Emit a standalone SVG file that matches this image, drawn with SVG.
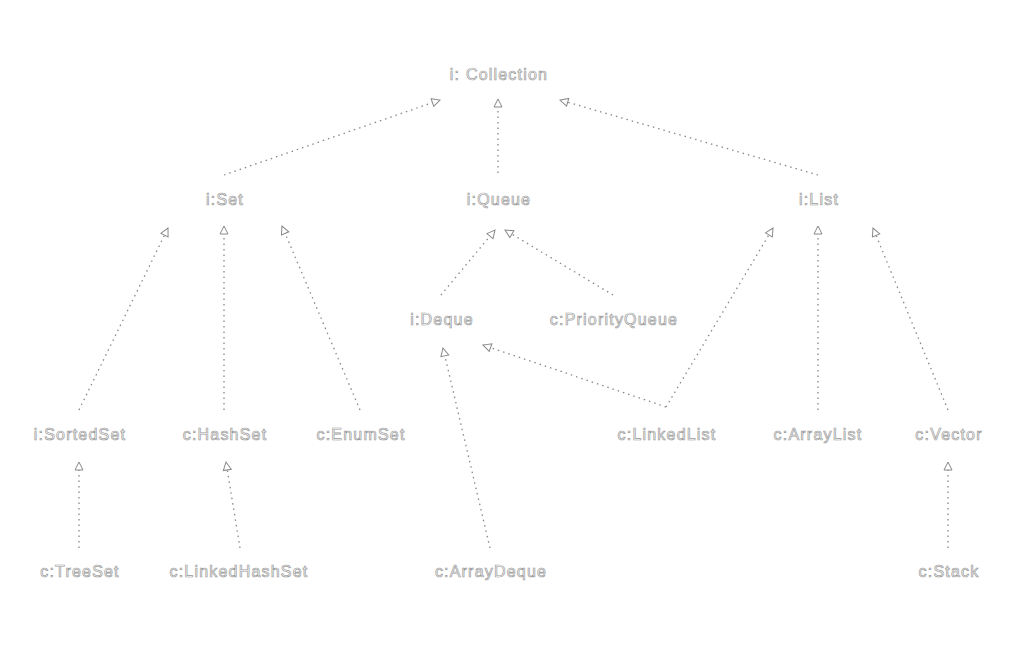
<svg xmlns="http://www.w3.org/2000/svg" width="1023" height="650" viewBox="0 0 1023 650">
<style>
text{font-family:"Liberation Sans",Arial,sans-serif;font-size:16px;letter-spacing:1.2px;fill:#ffffff;stroke:#9a9a9a;stroke-width:0.7;text-anchor:middle;dominant-baseline:central}
.e{fill:none;stroke:#888;stroke-width:1.3;stroke-dasharray:1.5 4;marker-end:url(#a)}
</style>
<defs>
<marker id="a" viewBox="0 0 10 10" refX="9" refY="5" markerWidth="10" markerHeight="10" markerUnits="userSpaceOnUse" orient="auto">
<path d="M1,1 L9,5 L1,9 Z" fill="#fff" stroke="#888" stroke-width="1"/>
</marker>
</defs>
<rect width="1023" height="650" fill="#fff"/>
<g id="edges">
<line class="e" x1="224" y1="175" x2="440" y2="100"/>
<line class="e" x1="498" y1="173" x2="498" y2="99"/>
<line class="e" x1="818" y1="175" x2="560" y2="100"/>
<line class="e" x1="79" y1="410" x2="168" y2="228"/>
<line class="e" x1="224" y1="410" x2="224" y2="226"/>
<line class="e" x1="360" y1="410" x2="282" y2="226"/>
<line class="e" x1="441" y1="295" x2="495" y2="230"/>
<line class="e" x1="613" y1="295" x2="505" y2="230"/>
<line class="e" x1="666" y1="407" x2="483" y2="345"/>
<line class="e" x1="666" y1="407" x2="773" y2="228"/>
<line class="e" x1="818" y1="410" x2="818" y2="226"/>
<line class="e" x1="948" y1="410" x2="873" y2="228"/>
<line class="e" x1="490" y1="548" x2="443" y2="348"/>
<line class="e" x1="79" y1="548" x2="79" y2="462"/>
<line class="e" x1="240" y1="548" x2="226" y2="462"/>
<line class="e" x1="948" y1="548" x2="948" y2="462"/>
</g>
<g id="collection"><text x="499" y="74">i: Collection</text></g>
<g id="set"><text x="225" y="199">i:Set</text></g>
<g id="queue"><text x="499" y="199">i:Queue</text></g>
<g id="list"><text x="819" y="199">i:List</text></g>
<g id="deque"><text x="442" y="319">i:Deque</text></g>
<g id="priorityqueue"><text x="614" y="319">c:PriorityQueue</text></g>
<g id="sortedset"><text x="80" y="434">i:SortedSet</text></g>
<g id="hashset"><text x="225" y="434">c:HashSet</text></g>
<g id="enumset"><text x="361" y="434">c:EnumSet</text></g>
<g id="linkedlist"><text x="667" y="434">c:LinkedList</text></g>
<g id="arraylist"><text x="818" y="434">c:ArrayList</text></g>
<g id="vector"><text x="949" y="434">c:Vector</text></g>
<g id="treeset"><text x="80" y="571">c:TreeSet</text></g>
<g id="linkedhashset"><text x="239" y="571">c:LinkedHashSet</text></g>
<g id="arraydeque"><text x="491" y="571">c:ArrayDeque</text></g>
<g id="stack"><text x="949" y="571">c:Stack</text></g>
</svg>
